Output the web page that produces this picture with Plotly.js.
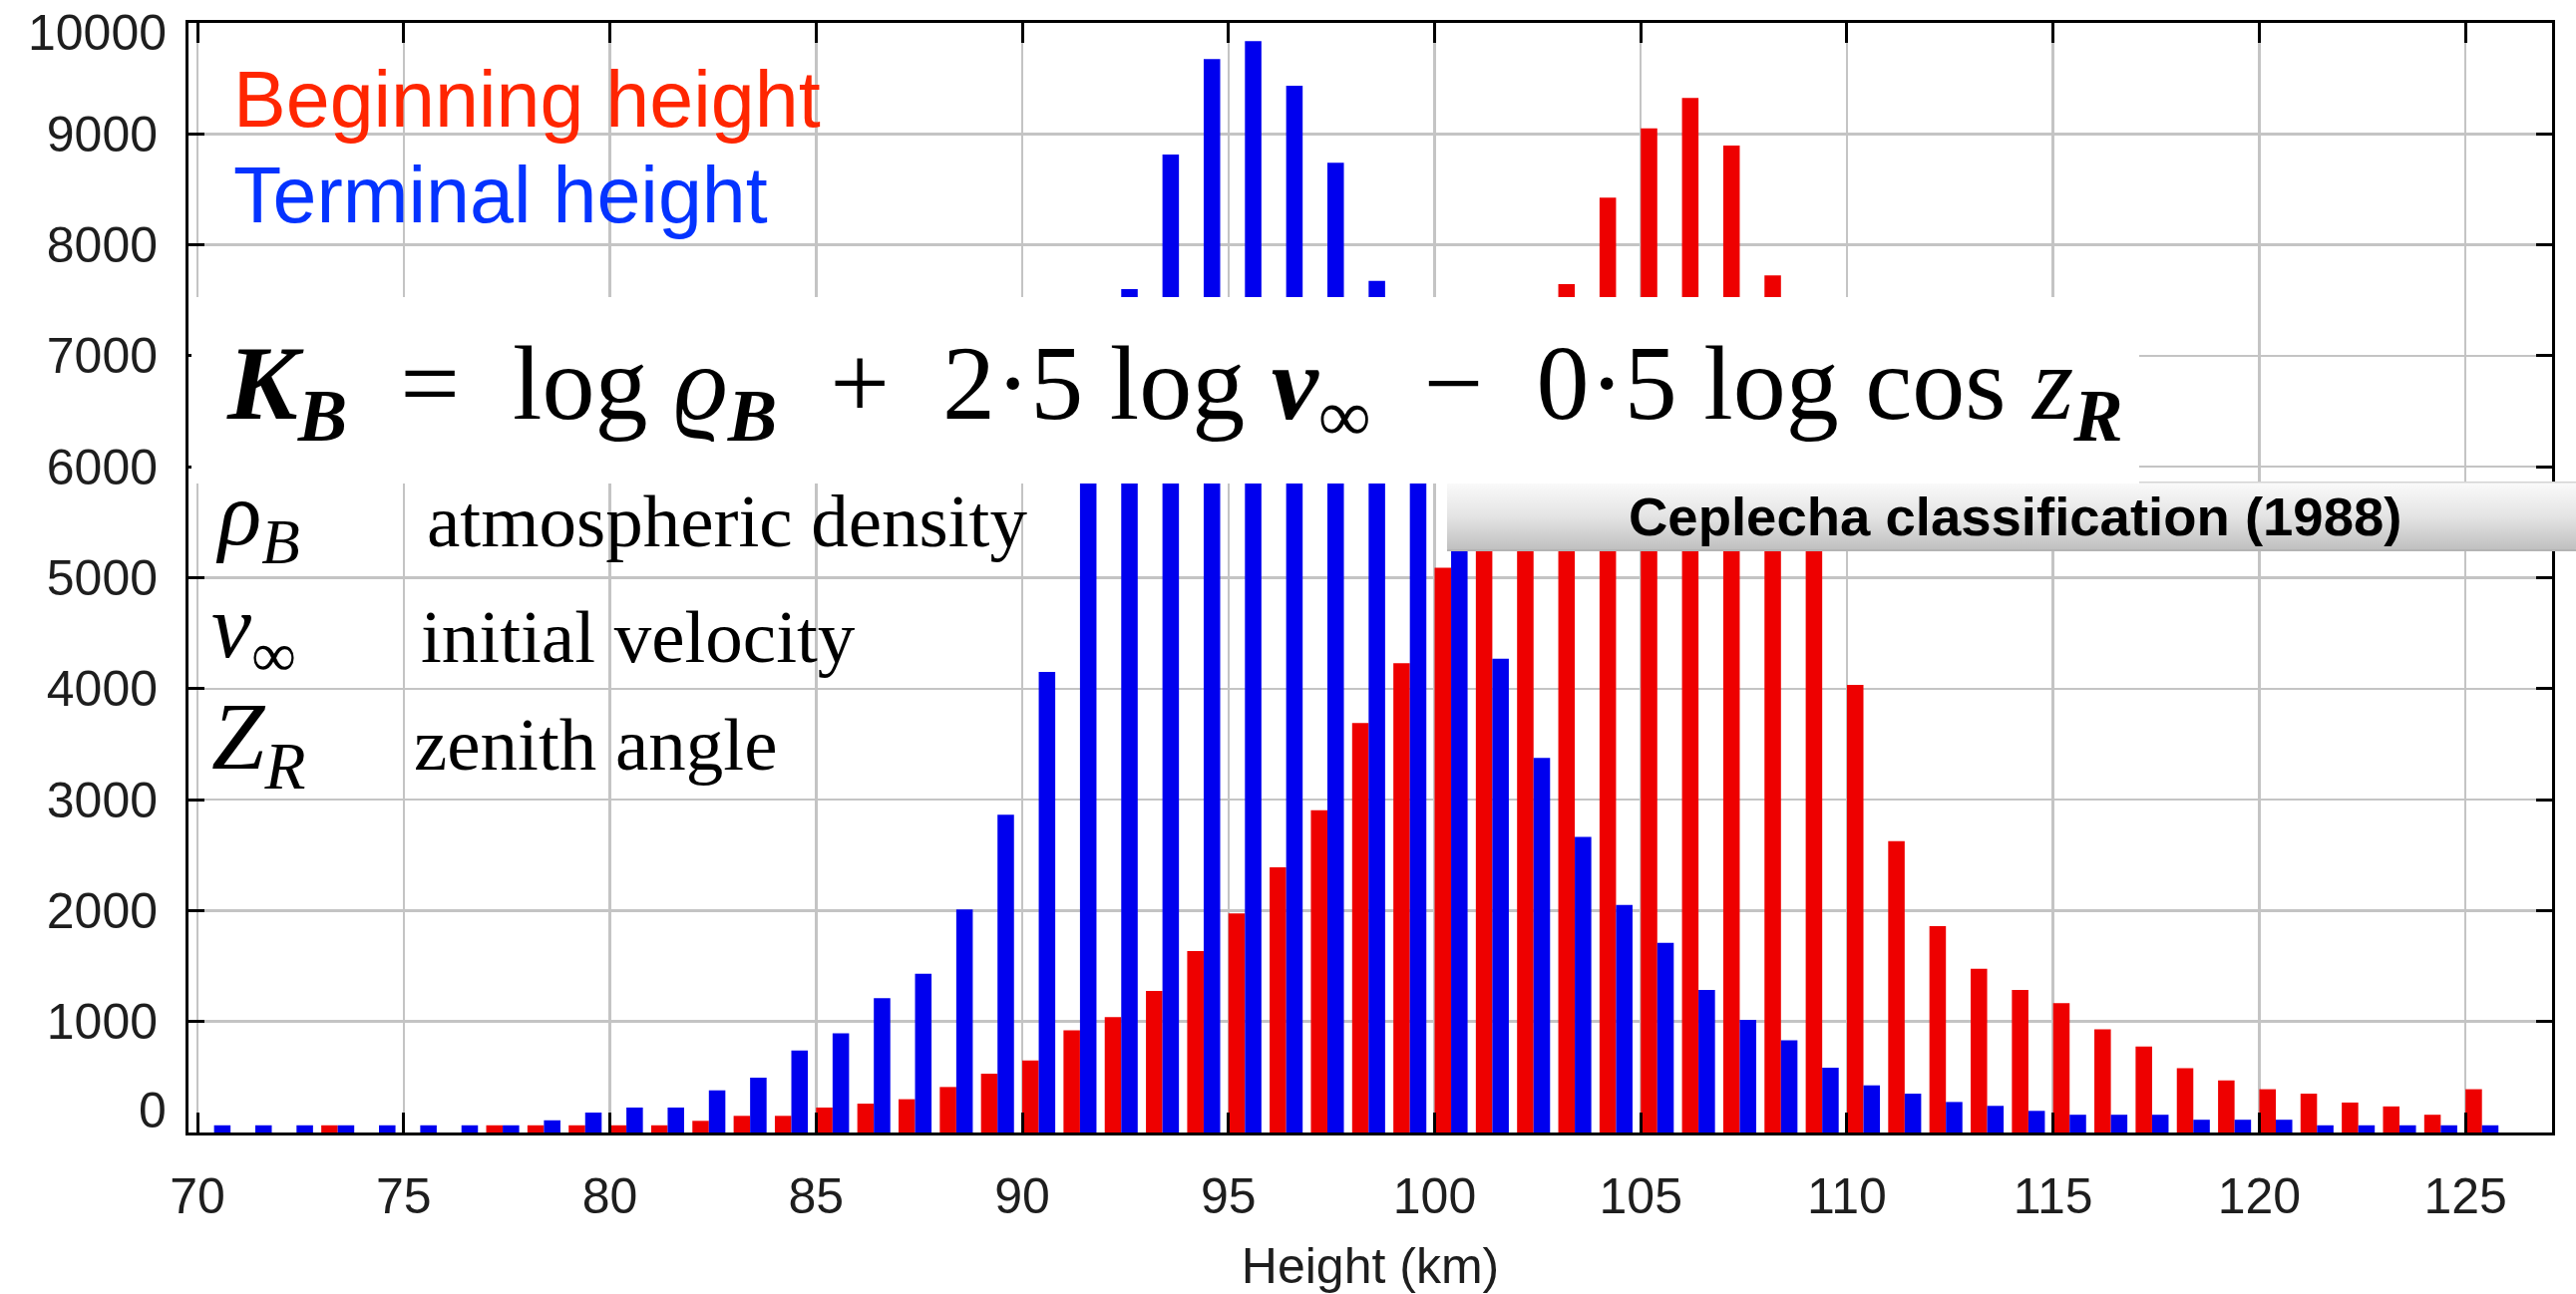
<!DOCTYPE html>
<html>
<head>
<meta charset="utf-8">
<script src="https://cdn.plot.ly/plotly-3.0.1.min.js"></script>
<style>
  html, body { margin: 0; padding: 0; background: #ffffff; }
  #chart { width: 2583px; height: 1298px; }
</style>
</head>
<body>
<div id="chart"></div>
<script>
// Height bins (km), lower edge of each 1 km bin
const heightKm = [
  70, 71, 72, 73, 74, 75, 76, 77, 78, 79,
  80, 81, 82, 83, 84, 85, 86, 87, 88, 89,
  90, 91, 92, 93, 94, 95, 96, 97, 98, 99,
  100, 101, 102, 103, 104, 105, 106, 107, 108, 109,
  110, 111, 112, 113, 114, 115, 116, 117, 118, 119,
  120, 121, 122, 123, 124, 125
];

// Number of meteors per bin: beginning height
const beginningCounts = [
  0, 0, 0, 65, 0, 0, 0, 65, 65, 65,
  65, 65, 105, 150, 150, 225, 260, 300, 410, 530,
  650, 920, 1040, 1275, 1635, 1975, 2390, 2905, 3690, 4230,
  5090, 5850, 6750, 7645, 8425, 9050, 9325, 8895, 7725, 5800,
  4035, 2625, 1860, 1475, 1285, 1165, 930, 775, 580, 470,
  390, 350, 270, 235, 160, 390
];

// Number of meteors per bin: terminal height
const terminalCounts = [
  65, 65, 65, 65, 65, 65, 65, 65, 110, 180,
  225, 225, 380, 495, 740, 895, 1210, 1430, 2010, 2865,
  4150, 5850, 7600, 8815, 9675, 9835, 9435, 8740, 7675, 6650,
  5450, 4270, 3375, 2665, 2050, 1710, 1285, 1015, 830, 585,
  425, 350, 275, 240, 195, 160, 160, 160, 115, 115,
  115, 65, 65, 65, 65, 65
];

const xTickVals = [70, 75, 80, 85, 90, 95, 100, 105, 110, 115, 120, 125];
const yTickVals = [1000, 2000, 3000, 4000, 5000, 6000, 7000, 8000, 9000];
const yMin = 0, yMax = 10000;

const RED = '#ee0000';
const BLUE = '#0000ee';

const traces = [
  {
    type: 'bar', name: 'Beginning height',
    x: heightKm, y: beginningCounts,
    width: 0.4, offset: 0,
    marker: { color: RED, line: { width: 0 } },
    hoverinfo: 'x+y'
  },
  {
    type: 'bar', name: 'Terminal height',
    x: heightKm, y: terminalCounts,
    width: 0.4, offset: 0.4,
    marker: { color: BLUE, line: { width: 0 } },
    hoverinfo: 'x+y'
  }
];

// Plot area in page pixels, used to place the overlay panels
const W = 2583, H = 1298;
const M = { l: 189, r: 24, t: 23, b: 162 };
const PW = W - M.l - M.r, PH = H - M.t - M.b;
const px = v => (v - M.l) / PW;
const py = v => (H - M.b - v) / PH;

// Gradient bar behind the classification caption
const barW = 1132, barH = 70;
const gradSvg =
  "<svg xmlns='http://www.w3.org/2000/svg' width='" + barW + "' height='" + barH + "' preserveAspectRatio='none'>" +
  "<defs><linearGradient id='g' x1='0' y1='0' x2='0' y2='1'>" +
  "<stop offset='0' stop-color='#fbfbfb'/><stop offset='0.5' stop-color='#e4e4e4'/><stop offset='1' stop-color='#bebebe'/>" +
  "</linearGradient></defs>" +
  "<rect x='0' y='0' width='" + barW + "' height='" + barH + "' rx='3' fill='url(#g)'/>" +
  "<rect x='0' y='0' width='" + barW + "' height='1.5' fill='#d4d4d4'/>" +
  "<rect x='0' y='" + (barH - 2) + "' width='" + barW + "' height='2' fill='#b4b4b4'/>" +
  "</svg>";
const gradSrc = 'data:image/svg+xml;base64,' + btoa(gradSvg);

const serif = 'Liberation Serif, Times New Roman, DejaVu Serif, serif';
const sans = 'Liberation Sans, Arial, Helvetica, sans-serif';
const tickFont = { family: sans, size: 50, color: '#1e1e1e' };

const sp = '\u2002';
const formula =
  '<b><i>K</i></b><sub><b><i>B</i></b></sub>' + sp + '=' + sp +
  'log <i>ϱ</i><sub><b><i>B</i></b></sub>' + sp + '+' + sp +
  '2·5 log <b><i>v</i></b><sub>∞</sub>' + sp + '−' + sp +
  '0·5 log cos <i>z</i><sub><b><i>R</i></b></sub>';

const annotations = [
  // end labels of the count axis, nudged inward like the other labels' frame
  { xref: 'paper', yref: 'y', x: 0, y: yMin, xanchor: 'right', yanchor: 'middle',
    xshift: -20, yshift: 22, showarrow: false, text: String(yMin), font: tickFont },
  { xref: 'paper', yref: 'y', x: 0, y: yMax, xanchor: 'right', yanchor: 'middle',
    xshift: -20, yshift: -10, showarrow: false, text: String(yMax), font: tickFont },
  // series labels
  { xref: 'paper', yref: 'paper', x: px(232), y: py(100), xanchor: 'left', yanchor: 'middle',
    showarrow: false, text: 'Beginning height',
    font: { family: sans, size: 79, color: '#ff2600' } },
  { xref: 'paper', yref: 'paper', x: px(232), y: py(195), xanchor: 'left', yanchor: 'middle',
    showarrow: false, text: 'Terminal height',
    font: { family: sans, size: 79, color: '#0433ff' } },
  // Ceplecha K_B parameter
  { xref: 'paper', yref: 'paper', x: px(225), y: py(392), xanchor: 'left', yanchor: 'middle',
    showarrow: false, text: formula,
    font: { family: serif, size: 106, color: '#000000' } },
  // symbol definitions
  { xref: 'paper', yref: 'paper', x: px(214), y: py(522), xanchor: 'left', yanchor: 'middle',
    showarrow: false, text: '<i>ρ</i><sub><i>B</i></sub>',
    font: { family: serif, size: 90, color: '#000000' } },
  { xref: 'paper', yref: 'paper', x: px(426), y: py(522), xanchor: 'left', yanchor: 'middle',
    showarrow: false, text: 'atmospheric density',
    font: { family: serif, size: 75, color: '#000000' } },
  { xref: 'paper', yref: 'paper', x: px(210), y: py(636), xanchor: 'left', yanchor: 'middle',
    showarrow: false, text: '<i>v</i><sub>∞</sub>',
    font: { family: serif, size: 90, color: '#000000' } },
  { xref: 'paper', yref: 'paper', x: px(420), y: py(638), xanchor: 'left', yanchor: 'middle',
    showarrow: false, text: 'initial velocity',
    font: { family: serif, size: 75, color: '#000000' } },
  { xref: 'paper', yref: 'paper', x: px(210), y: py(745), xanchor: 'left', yanchor: 'middle',
    showarrow: false, text: '<i>Z</i><sub><i>R</i></sub>',
    font: { family: serif, size: 96, color: '#000000' } },
  { xref: 'paper', yref: 'paper', x: px(413), y: py(746), xanchor: 'left', yanchor: 'middle',
    showarrow: false, text: 'zenith angle',
    font: { family: serif, size: 75, color: '#000000' } },
  // classification caption
  { xref: 'paper', yref: 'paper', x: px(2020), y: py(518), xanchor: 'center', yanchor: 'middle',
    showarrow: false, text: '<b>Ceplecha classification (1988)</b>',
    font: { family: sans, size: 54.5, color: '#000000' } }
];

const layout = {
  width: W, height: H,
  margin: { l: M.l, r: M.r, t: M.t, b: M.b, pad: 0 },
  paper_bgcolor: '#ffffff', plot_bgcolor: '#ffffff',
  showlegend: false,
  barmode: 'overlay',
  font: { family: sans, color: '#1e1e1e' },
  xaxis: {
    range: [69.78, 127.1],
    tickvals: xTickVals,
    showgrid: true, gridcolor: '#c4c4c4', gridwidth: 2.5,
    zeroline: false,
    showline: true, linecolor: '#000000', linewidth: 3, mirror: 'ticks',
    ticks: 'inside', ticklen: 20, tickwidth: 3, tickcolor: '#000000',
    tickfont: tickFont,
    ticklabelstandoff: 18,
    title: { text: 'Height (km)', font: { family: sans, size: 50, color: '#1e1e1e' }, standoff: 30 }
  },
  yaxis: {
    range: [yMin, yMax],
    tickvals: yTickVals, tickformat: 'd',
    showgrid: true, gridcolor: '#c4c4c4', gridwidth: 2.5,
    zeroline: false,
    showline: true, linecolor: '#000000', linewidth: 3, mirror: 'ticks',
    ticks: 'inside', ticklen: 16, tickwidth: 3, tickcolor: '#000000',
    tickfont: tickFont,
    ticklabelstandoff: 18
  },
  shapes: [
    // white panel behind the formula
    { type: 'rect', xref: 'paper', yref: 'paper', layer: 'above',
      x0: px(192), x1: px(2145), y0: py(485), y1: py(298),
      fillcolor: '#ffffff', line: { width: 0 } }
  ],
  images: [
    { source: gradSrc, xref: 'paper', yref: 'paper', layer: 'above',
      x: px(1451), y: py(483), sizex: (W - 1451) / PW, sizey: 70 / PH,
      xanchor: 'left', yanchor: 'top', sizing: 'stretch' }
  ],
  annotations: annotations
};

Plotly.newPlot('chart', traces, layout, { displayModeBar: false, staticPlot: true });
</script>
</body>
</html>
